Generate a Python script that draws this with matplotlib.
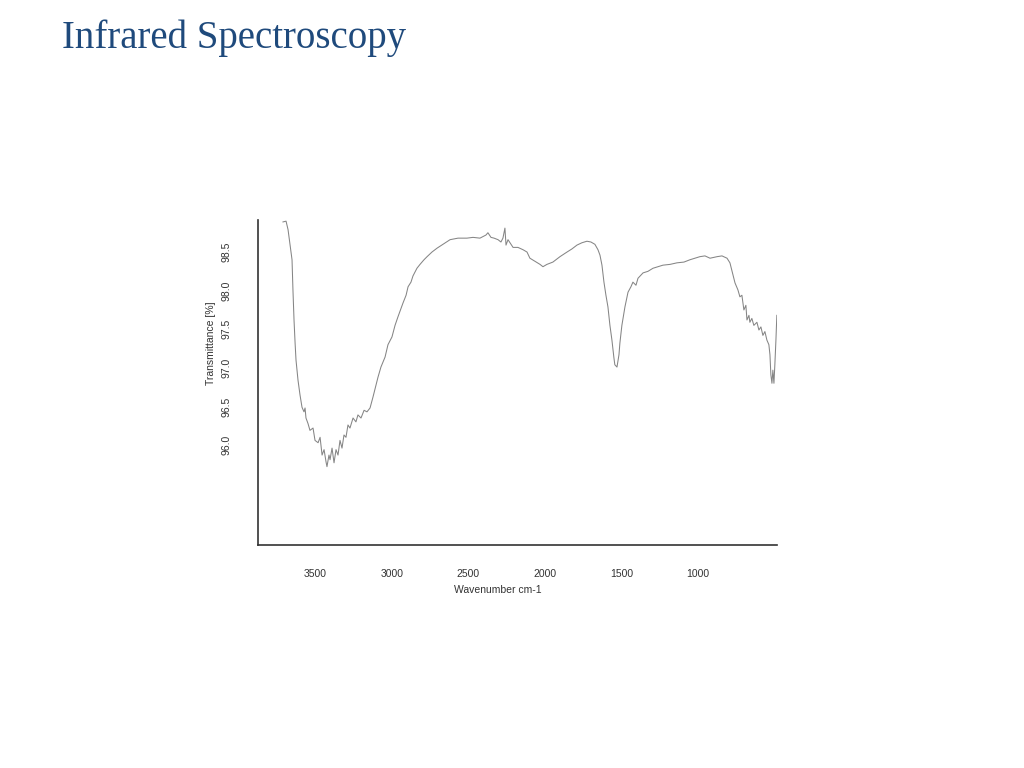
import matplotlib
matplotlib.use("Agg")
import matplotlib.pyplot as plt

# Traced IR spectrum (wavenumber cm-1, transmittance %)
wavenumber = [3709, 3689, 3676, 3663, 3650, 3644, 3637, 3630, 3624, 3611, 3598, 3585,
              3572, 3565, 3559, 3546, 3533, 3513, 3500, 3480, 3467, 3454, 3441, 3428,
              3422, 3409, 3402, 3389, 3376, 3363, 3350, 3337, 3324, 3311, 3298, 3285,
              3272, 3252, 3233, 3220, 3200, 3180, 3161, 3141, 3122, 3102, 3089, 3070,
              3043, 3024, 2998, 2978, 2959, 2926, 2906, 2893, 2874, 2861, 2835, 2815,
              2789, 2769, 2737, 2704, 2665, 2619, 2567, 2509, 2469, 2424, 2385, 2372,
              2352, 2332, 2306, 2287, 2274, 2261, 2254, 2241, 2208, 2176, 2143, 2117,
              2098, 2065, 2032, 2013, 1987, 1948, 1902, 1856, 1824, 1791, 1759, 1726,
              1700, 1674, 1654, 1641, 1628, 1615, 1602, 1589, 1576, 1563, 1550, 1544,
              1530, 1517, 1511, 1498, 1478, 1458, 1439, 1426, 1406, 1393, 1360, 1328,
              1295, 1263, 1230, 1184, 1139, 1093, 1054, 1021, 989, 956, 923, 877,
              845, 812, 793, 773, 760, 741, 728, 715, 702, 689, 682, 669,
              663, 650, 637, 617, 604, 591, 578, 565, 552, 539, 532, 526,
              519, 513, 506, 500, 493, 487]
transmittance = [98.89, 98.90, 98.79, 98.59, 98.40, 98.01, 97.62, 97.32, 97.10, 96.84, 96.65, 96.49,
                 96.43, 96.48, 96.35, 96.28, 96.19, 96.22, 96.06, 96.03, 96.10, 95.87, 95.94, 95.78,
                 95.72, 95.87, 95.81, 95.96, 95.77, 95.94, 95.87, 96.06, 95.96, 96.13, 96.10, 96.26,
                 96.22, 96.35, 96.30, 96.39, 96.35, 96.45, 96.43, 96.48, 96.62, 96.78, 96.88, 97.01,
                 97.14, 97.30, 97.40, 97.55, 97.66, 97.84, 97.94, 98.05, 98.11, 98.19, 98.29, 98.34,
                 98.40, 98.44, 98.50, 98.55, 98.60, 98.66, 98.68, 98.68, 98.69, 98.68, 98.72, 98.75,
                 98.69, 98.68, 98.66, 98.63, 98.68, 98.81, 98.59, 98.66, 98.56, 98.56, 98.53, 98.50,
                 98.42, 98.38, 98.34, 98.31, 98.34, 98.37, 98.44, 98.50, 98.54, 98.59, 98.62, 98.64,
                 98.63, 98.60, 98.53, 98.46, 98.33, 98.11, 97.94, 97.79, 97.55, 97.36, 97.13, 97.04,
                 97.01, 97.17, 97.32, 97.55, 97.79, 97.98, 98.05, 98.11, 98.07, 98.16, 98.23, 98.25,
                 98.29, 98.31, 98.33, 98.34, 98.36, 98.37, 98.40, 98.42, 98.44, 98.45, 98.42, 98.44,
                 98.45, 98.42, 98.36, 98.20, 98.10, 98.01, 97.92, 97.94, 97.75, 97.81, 97.62, 97.68,
                 97.59, 97.64, 97.55, 97.59, 97.49, 97.53, 97.42, 97.47, 97.36, 97.30, 97.17, 96.91,
                 96.80, 96.97, 96.80, 97.04, 97.36, 97.68]

x_ticks = [3500, 3000, 2500, 2000, 1500, 1000]
y_ticks = [96.0, 96.5, 97.0, 97.5, 98.0, 98.5]
y_tick_labels = ["96.0", "96.5", "97.0", "97.5", "98.0", "98.5"]

fig = plt.figure(figsize=(10.24, 7.68), dpi=100)
fig.patch.set_facecolor("white")

fig.text(62 / 1024, 1 - 38 / 768, "Infrared Spectroscopy", family="Liberation Serif",
         fontsize=28, color="#1F4A7C", ha="left", va="center")

ax = fig.add_axes([258 / 1024, 1 - 545 / 768, 519 / 1024, 325 / 768])
ax.plot(wavenumber, transmittance, color="#858585", lw=0.75)
ax.set_xlim(3872, 486)
ax.set_ylim(94.705, 98.915)

for s in ["top", "right"]:
    ax.spines[s].set_visible(False)
for s in ["left", "bottom"]:
    ax.spines[s].set_color("#333333")
    ax.spines[s].set_linewidth(1.2)

ax.set_xticks(x_ticks)
ax.set_xticklabels([str(t) for t in x_ticks])
ax.set_yticks(y_ticks)
ax.set_yticklabels(y_tick_labels, rotation=90, va="center")
ax.tick_params(axis="x", length=0, pad=17, labelsize=7.5, labelcolor="#333333")
ax.tick_params(axis="y", length=0, pad=19, labelsize=7.5, labelcolor="#333333")
for lab in ax.get_xticklabels() + ax.get_yticklabels():
    lab.set_family("Liberation Sans")

ax.set_xlabel("Wavenumber cm-1", family="Liberation Sans", fontsize=7.5, color="#333333")
ax.xaxis.set_label_coords((498 - 258) / 519, (545 - 585) / 325)
ax.set_ylabel("Transmittance [%]", family="Liberation Sans", fontsize=7.5, color="#333333")
ax.yaxis.set_label_coords((216 - 258) / 519, (545 - 343) / 325)

fig.savefig("out.png", dpi=100, facecolor="white")
